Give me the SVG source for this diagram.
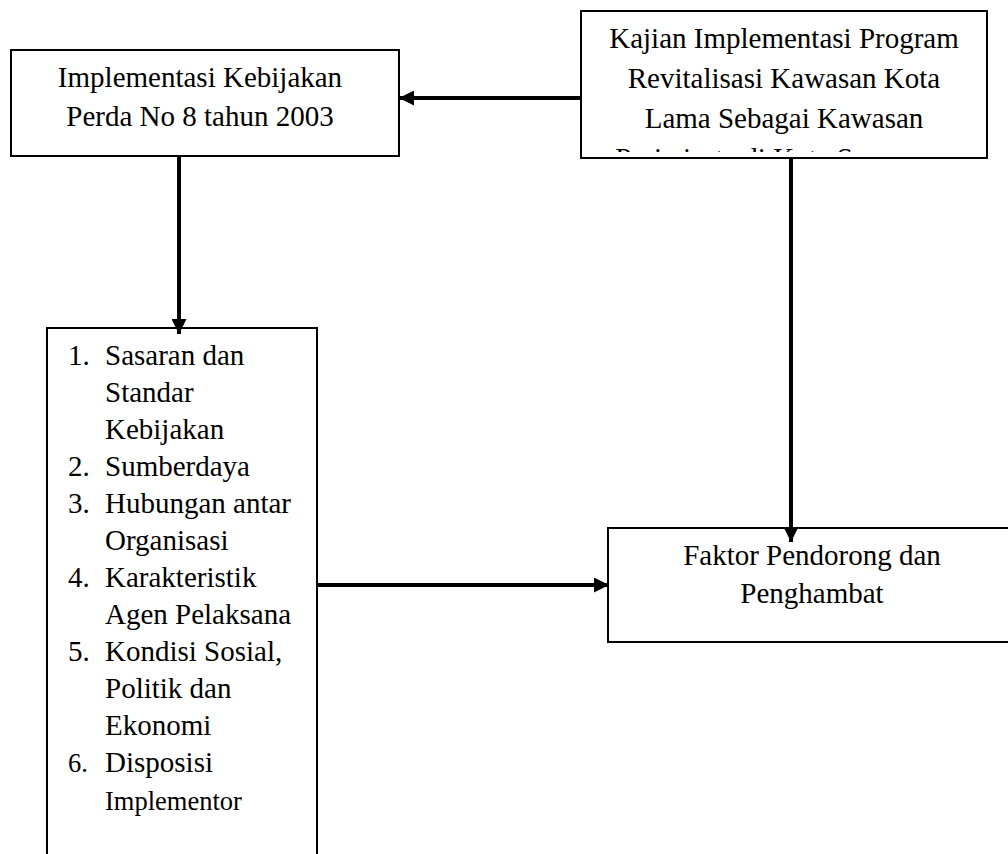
<svg xmlns="http://www.w3.org/2000/svg" width="1008" height="854" viewBox="0 0 1008 854">
<style>
.box{fill:#fff;stroke:#000;stroke-width:2}
.t{font-family:"Liberation Serif","Times New Roman",serif;font-size:29px;fill:#000}
.c{text-anchor:middle}
.conn{stroke:#000;stroke-width:4;fill:none}
.sm{font-size:26.5px}
</style>
<defs>
<marker id="ah" viewBox="0 0 15 15" refX="15" refY="7.5" markerWidth="15" markerHeight="15" markerUnits="userSpaceOnUse" orient="auto">
<path d="M0,0 L15,7.5 L0,15 z" fill="#000"/>
</marker>
<clipPath id="clipK"><rect x="582" y="12" width="404" height="140"/></clipPath>
</defs>
<rect width="1008" height="854" fill="#fff"/>
<g id="kajian">
<rect class="box" x="581" y="11" width="406" height="147"/>
<g clip-path="url(#clipK)">
<text class="t c" x="784" y="48">Kajian Implementasi Program</text>
<text class="t c" x="784" y="88">Revitalisasi Kawasan Kota</text>
<text class="t c" x="784" y="128">Lama Sebagai Kawasan</text>
<text class="t c" x="784" y="168">Pariwisata di Kota Semarang</text>
</g>
</g>
<g id="implementasi">
<rect class="box" x="11" y="50" width="388" height="106"/>
<text class="t c" x="200" y="87">Implementasi Kebijakan</text>
<text class="t c" x="200" y="126">Perda No 8 tahun 2003</text>
</g>
<g id="faktor">
<rect class="box" x="608" y="528" width="408" height="114"/>
<text class="t c" x="812" y="565">Faktor Pendorong dan</text>
<text class="t c" x="812" y="603">Penghambat</text>
</g>
<g id="daftar">
<rect class="box" x="47" y="328" width="270" height="560"/>
<text class="t" x="68" y="365">1.</text><text class="t" x="105" y="365">Sasaran dan</text>
<text class="t" x="105" y="402">Standar</text>
<text class="t" x="105" y="439">Kebijakan</text>
<text class="t" x="68" y="476">2.</text><text class="t" x="105" y="476">Sumberdaya</text>
<text class="t" x="68" y="513">3.</text><text class="t" x="105" y="513">Hubungan antar</text>
<text class="t" x="105" y="550">Organisasi</text>
<text class="t" x="68" y="587">4.</text><text class="t" x="105" y="587">Karakteristik</text>
<text class="t" x="105" y="624">Agen Pelaksana</text>
<text class="t" x="68" y="661">5.</text><text class="t" x="105" y="661">Kondisi Sosial,</text>
<text class="t" x="105" y="698">Politik dan</text>
<text class="t" x="105" y="735">Ekonomi</text>
<text class="t sm" x="68" y="772">6.</text><text class="t" x="105" y="772">Disposisi</text>
<text class="t sm" x="105" y="810">Implementor</text>
</g>
<g id="connectors">
<line class="conn" x1="581" y1="98" x2="399" y2="98" marker-end="url(#ah)"/>
<line class="conn" x1="179" y1="156" x2="179" y2="334" marker-end="url(#ah)"/>
<line class="conn" x1="791" y1="158" x2="791" y2="542" marker-end="url(#ah)"/>
<line class="conn" x1="317" y1="585" x2="609" y2="585" marker-end="url(#ah)"/>
</g>
</svg>
